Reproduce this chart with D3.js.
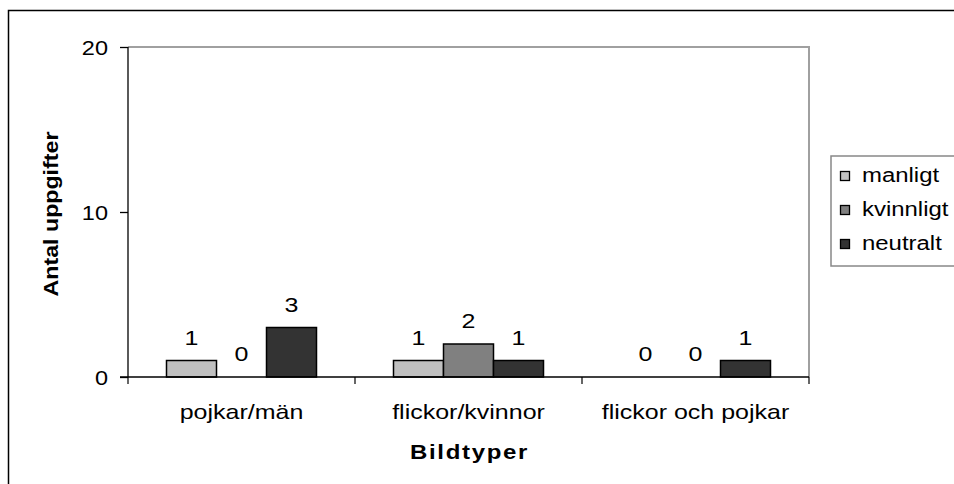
<!DOCTYPE html>
<html><head><meta charset="utf-8">
<script src="https://cdn.jsdelivr.net/npm/d3@7"></script>
<style>body{margin:0;background:#fff}svg{display:block}text{font-family:Arial,"Liberation Sans",sans-serif;fill:#000}</style>
</head><body><svg id="c" width="954" height="484"></svg>
<script>
const categories = ["pojkar/män", "flickor/kvinnor", "flickor och pojkar"];
const seriesNames = ["manligt", "kvinnligt", "neutralt"];
const manligt = [1, 1, 0];
const kvinnligt = [0, 2, 0];
const neutralt = [3, 1, 1];
const yTicks = [0, 10, 20];
const colors = ["#c0c0c0", "#808080", "#333333"];
const seriesValues = [manligt, kvinnligt, neutralt];

const SX = 1.19; // horizontal stretch of the original text
const FS = 21;
const svg = d3.select("#c");
const L = 128, R = 809, T = 47, B = 377;

function stext(parent, x, y, str, opts = {}) {
  const g = parent.append("g").attr("transform", `translate(${x},${y})${opts.rotate ? ` rotate(${opts.rotate})` : ""} scale(${opts.sx || SX},1)`);
  const t = g.append("text").attr("text-anchor", opts.anchor || "middle")
    .attr("font-size", opts.size || FS).text(str);
  if (opts.bold) t.attr("font-weight", "bold");
  if (opts.ls) t.attr("letter-spacing", opts.ls);
  return t;
}

// outer border
svg.append("rect").attr("x", 8.5).attr("y", 10.5).attr("width", 960).attr("height", 500)
  .attr("fill", "none").attr("stroke", "#000").attr("stroke-width", 1.5);

const x0 = d3.scaleBand().domain(categories).range([L, R]);
const x1 = d3.scaleBand().domain(seriesNames).range([0, 150]);
const y = d3.scaleLinear().domain([0, 20]).range([B, T]);

// plot frame (top/right gray)
svg.append("path").attr("d", `M${L},${T}H${R}V${B}`).attr("fill", "none")
  .attr("stroke", "#a0a0a0").attr("stroke-width", 2);

// bars + value labels
const groups = svg.append("g").selectAll("g").data(categories).join("g")
  .attr("transform", d => `translate(${x0(d) + (x0.bandwidth() - 150) / 2},0)`);
groups.each(function (cat, ci) {
  const g = d3.select(this);
  seriesNames.forEach((s, si) => {
    const v = seriesValues[si][ci];
    if (v > 0) {
      g.append("rect").attr("x", x1(s)).attr("y", y(v)).attr("width", x1.bandwidth())
        .attr("height", y(0) - y(v)).attr("fill", colors[si]).attr("stroke", "#000").attr("stroke-width", 1.5);
    }
    stext(g, x1(s) + x1.bandwidth() / 2, y(v) - 16, v);
  });
});

// y axis
const yAxis = d3.axisLeft(y).tickValues(yTicks).tickSize(8).tickFormat(() => "");
const gy = svg.append("g").attr("transform", `translate(${L},0)`).call(yAxis);
gy.select(".domain").attr("stroke", "#000").attr("stroke-width", 1.3).attr("d", `M0,${T}V${B}`);
gy.selectAll(".tick line").attr("stroke", "#000").attr("stroke-width", 1.3);
yTicks.forEach(t => stext(svg, 108, y(t) + 7.5, t, { anchor: "end", sx: 1.12 }));

// x axis
const xAxis = d3.axisBottom(x0).tickSize(0).tickFormat(() => "");
const gx = svg.append("g").attr("transform", `translate(0,${B})`).call(xAxis);
gx.select(".domain").attr("stroke", "#000").attr("stroke-width", 1.3).attr("d", `M${L - 8},0H${R}`);
const seps = categories.map(c => x0(c)).concat([R]);
gx.selectAll(".sep").data(seps).join("line").attr("class", "sep")
  .attr("x1", d => d).attr("x2", d => d).attr("y1", 0).attr("y2", 7).attr("stroke", "#000").attr("stroke-width", 1.2);
categories.forEach(c => stext(svg, x0(c) + x0.bandwidth() / 2, 419, c));

// axis titles
stext(svg, 58, 214, "Antal uppgifter", { rotate: -90, bold: true, size: 20, sx: 1.16 });
stext(svg, (L + R) / 2 + 1, 459, "Bildtyper", { bold: true, size: 20, sx: 1.2, ls: 1.4 });

// legend
svg.append("rect").attr("x", 831).attr("y", 156).attr("width", 140).attr("height", 110)
  .attr("fill", "#fff").attr("stroke", "#888").attr("stroke-width", 1.5);
const lg = svg.append("g").selectAll("g").data(seriesNames).join("g")
  .attr("transform", (d, i) => `translate(840,${176 + i * 34})`);
lg.append("rect").attr("x", 0.5).attr("y", -4.5).attr("width", 9).attr("height", 9)
  .attr("fill", (d, i) => colors[i]).attr("stroke", "#000").attr("stroke-width", 1.3);
lg.each(function (d) { stext(d3.select(this), 22, 6, d, { anchor: "start", sx: 1.14 }); });
</script></body></html>
